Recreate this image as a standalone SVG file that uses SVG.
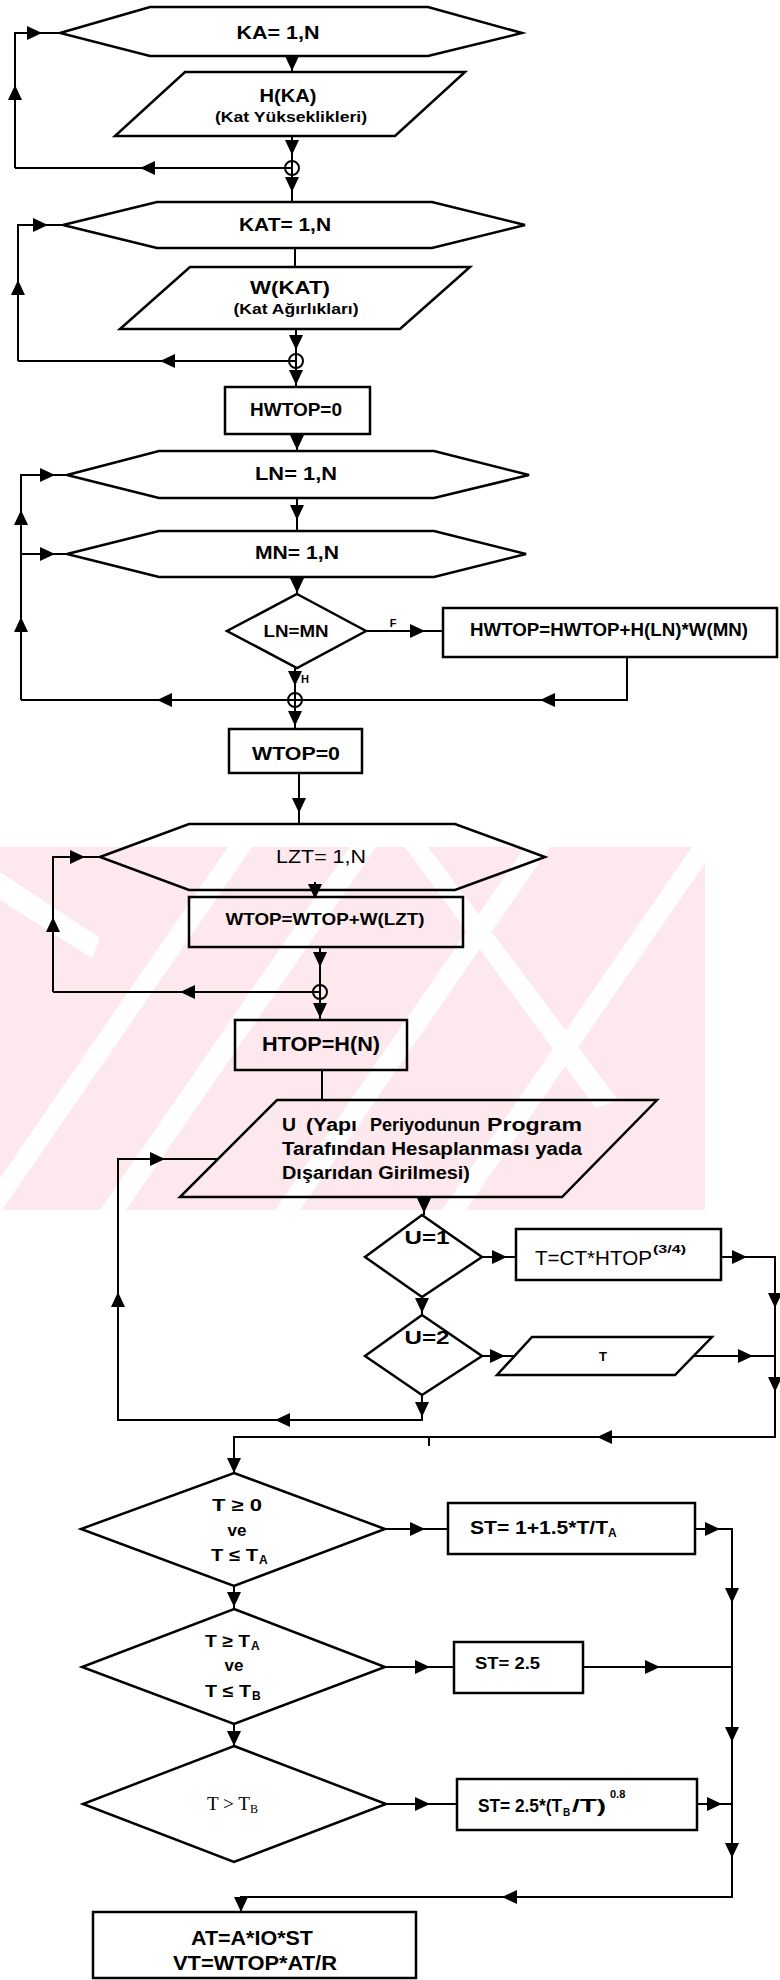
<svg xmlns="http://www.w3.org/2000/svg" xmlns:xlink="http://www.w3.org/1999/xlink" width="780" height="1980" viewBox="0 0 780 1980" font-size="18">
  <style>
    .shape { fill: none; stroke: #000; stroke-width: 2.5; stroke-linejoin: miter; }
    .c { fill: none; stroke: #000; stroke-width: 2; }
    .t { font-family: "Liberation Sans", Arial, sans-serif; font-weight: bold; fill: #000; text-anchor: middle; dominant-baseline: central; }
    .l { text-anchor: start; }
    .thin { font-weight: normal; }
    .serif { font-family: "Liberation Serif", "Times New Roman", serif; font-weight: normal; }
    .wm { fill: #fde9ed; }
    .wmw { fill: #fff; }
  </style>
  <defs>
    <!-- arrowhead pointing along +x with the tip at the origin -->
    <path id="ah" d="M0,0 L-15,-7 L-15,7 Z" fill="#000"/>
    <clipPath id="wmclip"><rect x="0" y="847" width="705" height="363"/></clipPath>
  </defs>
  <rect width="780" height="1980" fill="#fff"/>

  <!-- faint stamp in the background -->
  <g id="stamp" clip-path="url(#wmclip)">
    <rect class="wm" x="0" y="847" width="705" height="363"/>
    <polygon class="wmw" points="228,847 252,847 2,1210 -22,1210"/>
    <polygon class="wmw" points="350,847 376,847 126,1210 100,1210"/>
    <polygon class="wmw" points="525,847 550,847 300,1210 275,1210"/>
    <polygon class="wmw" points="692,847 716,847 466,1210 442,1210"/>
    <polygon class="wmw" points="0,872 0,900 92,958 100,938"/>
    <polygon class="wmw" points="405,847 428,847 618,1100 596,1108"/>
  </g>

  <!-- connectors -->
  <g id="connectors">
    <!-- KA loop -->
    <path class="c" d="M15,168 V33 H60"/>
    <path class="c" d="M292,168 H15"/>
    <path class="c" d="M292,56 V72 M292,136 V202"/>
    <!-- KAT loop -->
    <path class="c" d="M18,361 V225 H63"/>
    <path class="c" d="M296,361 H18"/>
    <path class="c" d="M295,248 V267 M296,329 V387"/>
    <!-- HWTOP to LN -->
    <path class="c" d="M297,434 V451"/>
    <!-- LN / MN loop -->
    <path class="c" d="M21,700 V475 H67 M21,554 H67"/>
    <path class="c" d="M297,498 V531 M297,577 V594"/>
    <path class="c" d="M366,631 H443"/>
    <path class="c" d="M627,657 V700 H21"/>
    <path class="c" d="M295,668 V729"/>
    <!-- WTOP to LZT -->
    <path class="c" d="M299,773 V824"/>
    <!-- LZT loop -->
    <path class="c" d="M53,992 V857 H100"/>
    <path class="c" d="M320,992 H53"/>
    <path class="c" d="M315,882 V897 M320,947 V1020"/>
    <!-- HTOP to U -->
    <path class="c" d="M322,1070 V1100"/>
    <!-- U section -->
    <path class="c" d="M218,1159 H118 V1420 H422 V1395"/>
    <path class="c" d="M424,1197 V1215 M422,1297 V1315"/>
    <path class="c" d="M482,1257 H516 M721,1257 H775 V1437 H234 V1473"/>
    <path class="c" d="M482,1356 H515 M693,1356 H775"/>
    <path class="c" d="M429,1437 V1446"/>
    <!-- seismic coefficient branches -->
    <path class="c" d="M234,1586 V1609 M234,1724 V1746"/>
    <path class="c" d="M385,1529 H448 M695,1529 H732 V1897 H241 V1912"/>
    <path class="c" d="M385,1667 H454 M583,1667 H732"/>
    <path class="c" d="M386,1804 H457 M697,1804 H732"/>

    <!-- junction circles -->
    <circle class="c" cx="292" cy="168" r="7"/>
    <circle class="c" cx="296" cy="361" r="7" fill="#fff"/>
    <circle class="c" cx="295" cy="700" r="7"/>
    <circle class="c" cx="320" cy="992" r="7"/>

    <!-- arrowheads -->
    <use xlink:href="#ah" transform="translate(42,33)"/>
    <use xlink:href="#ah" transform="translate(15,85) rotate(-90)"/>
    <use xlink:href="#ah" transform="translate(140,168) rotate(180)"/>
    <use xlink:href="#ah" transform="translate(292,71) rotate(90)"/>
    <use xlink:href="#ah" transform="translate(292,155) rotate(90)"/>
    <use xlink:href="#ah" transform="translate(292,192) rotate(90)"/>

    <use xlink:href="#ah" transform="translate(48,225)"/>
    <use xlink:href="#ah" transform="translate(18,280) rotate(-90)"/>
    <use xlink:href="#ah" transform="translate(160,361) rotate(180)"/>
    <use xlink:href="#ah" transform="translate(296,350) rotate(90)"/>
    <use xlink:href="#ah" transform="translate(296,385) rotate(90)"/>

    <use xlink:href="#ah" transform="translate(297,450) rotate(90)"/>
    <use xlink:href="#ah" transform="translate(55,475)"/>
    <use xlink:href="#ah" transform="translate(55,554)"/>
    <use xlink:href="#ah" transform="translate(21,510) rotate(-90)"/>
    <use xlink:href="#ah" transform="translate(21,617) rotate(-90)"/>
    <use xlink:href="#ah" transform="translate(297,520) rotate(90)"/>
    <use xlink:href="#ah" transform="translate(297,593) rotate(90)"/>
    <use xlink:href="#ah" transform="translate(425,631)"/>
    <use xlink:href="#ah" transform="translate(540,700) rotate(180)"/>
    <use xlink:href="#ah" transform="translate(295,686) rotate(90)"/>
    <use xlink:href="#ah" transform="translate(157,700) rotate(180)"/>
    <use xlink:href="#ah" transform="translate(295,726) rotate(90)"/>

    <use xlink:href="#ah" transform="translate(299,813) rotate(90)"/>
    <use xlink:href="#ah" transform="translate(85,857)"/>
    <use xlink:href="#ah" transform="translate(53,917) rotate(-90)"/>
    <use xlink:href="#ah" transform="translate(315,899) rotate(90)"/>
    <use xlink:href="#ah" transform="translate(320,967) rotate(90)"/>
    <use xlink:href="#ah" transform="translate(180,992) rotate(180)"/>
    <use xlink:href="#ah" transform="translate(320,1018) rotate(90)"/>

    <use xlink:href="#ah" transform="translate(165,1159)"/>
    <use xlink:href="#ah" transform="translate(118,1292) rotate(-90)"/>
    <use xlink:href="#ah" transform="translate(424,1213) rotate(90)"/>
    <use xlink:href="#ah" transform="translate(507,1257)"/>
    <use xlink:href="#ah" transform="translate(747,1257)"/>
    <use xlink:href="#ah" transform="translate(775,1308) rotate(90)"/>
    <use xlink:href="#ah" transform="translate(775,1392) rotate(90)"/>
    <use xlink:href="#ah" transform="translate(422,1313) rotate(90)"/>
    <use xlink:href="#ah" transform="translate(505,1356)"/>
    <use xlink:href="#ah" transform="translate(753,1356)"/>
    <use xlink:href="#ah" transform="translate(422,1417) rotate(90)"/>
    <use xlink:href="#ah" transform="translate(275,1420) rotate(180)"/>
    <use xlink:href="#ah" transform="translate(597,1437) rotate(180)"/>

    <use xlink:href="#ah" transform="translate(234,1473) rotate(90)"/>
    <use xlink:href="#ah" transform="translate(425,1529)"/>
    <use xlink:href="#ah" transform="translate(720,1529)"/>
    <use xlink:href="#ah" transform="translate(732,1603) rotate(90)"/>
    <use xlink:href="#ah" transform="translate(732,1742) rotate(90)"/>
    <use xlink:href="#ah" transform="translate(732,1858) rotate(90)"/>
    <use xlink:href="#ah" transform="translate(234,1607) rotate(90)"/>
    <use xlink:href="#ah" transform="translate(430,1667)"/>
    <use xlink:href="#ah" transform="translate(660,1667)"/>
    <use xlink:href="#ah" transform="translate(234,1746) rotate(90)"/>
    <use xlink:href="#ah" transform="translate(430,1804)"/>
    <use xlink:href="#ah" transform="translate(722,1804)"/>
    <use xlink:href="#ah" transform="translate(502,1897) rotate(180)"/>
    <use xlink:href="#ah" transform="translate(241,1912) rotate(90)"/>

    <!-- branch labels -->
    <text class="t" x="393" y="623" font-size="11">F</text>
    <text class="t" x="305" y="679" font-size="11">H</text>
  </g>

  <!-- nodes -->
  <g id="loop-ka">
    <polygon class="shape" points="60,33 150,7 428,7 522,33 428,56 150,56"/>
    <text class="t" x="278" y="33" textLength="83" lengthAdjust="spacingAndGlyphs">KA= 1,N</text>
  </g>
  <g id="input-h">
    <polygon class="shape" points="185,72 465,72 395,136 115,136"/>
    <text class="t" x="288" y="95" font-size="19" textLength="57" lengthAdjust="spacingAndGlyphs">H(KA)</text>
    <text class="t" x="291" y="117" font-size="14" textLength="152" lengthAdjust="spacingAndGlyphs">(Kat Yükseklikleri)</text>
  </g>
  <g id="loop-kat">
    <polygon class="shape" points="63,225 157,202 432,202 525,225 432,248 157,248"/>
    <text class="t" x="285" y="225" textLength="92" lengthAdjust="spacingAndGlyphs">KAT= 1,N</text>
  </g>
  <g id="input-w">
    <polygon class="shape" points="190,267 470,267 400,329 120,329"/>
    <text class="t" x="290" y="287" font-size="19" textLength="80" lengthAdjust="spacingAndGlyphs">W(KAT)</text>
    <text class="t" x="296" y="309" font-size="14" textLength="125" lengthAdjust="spacingAndGlyphs">(Kat Ağırlıkları)</text>
  </g>
  <g id="hwtop-init">
    <rect class="shape" x="225" y="387" width="145" height="47"/>
    <text class="t" x="296" y="410" textLength="92" lengthAdjust="spacingAndGlyphs">HWTOP=0</text>
  </g>
  <g id="loop-ln">
    <polygon class="shape" points="67,475 159,451 434,451 529,475 434,498 159,498"/>
    <text class="t" x="296" y="474" textLength="82" lengthAdjust="spacingAndGlyphs">LN= 1,N</text>
  </g>
  <g id="loop-mn">
    <polygon class="shape" points="67,554 159,531 434,531 526,554 434,577 159,577"/>
    <text class="t" x="297" y="553" textLength="84" lengthAdjust="spacingAndGlyphs">MN= 1,N</text>
  </g>
  <g id="test-ln-mn">
    <polygon class="shape" points="297,594 366,631 297,668 227,631"/>
    <text class="t" x="296" y="631" font-size="17" textLength="65" lengthAdjust="spacingAndGlyphs">LN=MN</text>
  </g>
  <g id="hwtop-sum">
    <rect class="shape" x="443" y="608" width="334" height="49"/>
    <text class="t" x="609" y="629" font-size="19" textLength="278" lengthAdjust="spacingAndGlyphs">HWTOP=HWTOP+H(LN)*W(MN)</text>
  </g>
  <g id="wtop-init">
    <rect class="shape" x="229" y="729" width="133" height="44"/>
    <text class="t" x="296" y="753" font-size="19" textLength="88" lengthAdjust="spacingAndGlyphs">WTOP=0</text>
  </g>
  <g id="loop-lzt">
    <polygon class="shape" points="100,857 189,824 455,824 545,857 455,890 189,890"/>
    <text class="t thin" x="321" y="857" textLength="90" lengthAdjust="spacingAndGlyphs">LZT= 1,N</text>
  </g>
  <g id="wtop-sum">
    <rect class="shape" x="189" y="897" width="274" height="50"/>
    <text class="t" x="325" y="919" font-size="17" textLength="199" lengthAdjust="spacingAndGlyphs">WTOP=WTOP+W(LZT)</text>
  </g>
  <g id="htop">
    <rect class="shape" x="235" y="1020" width="172" height="50"/>
    <text class="t" x="321" y="1043" font-size="21" textLength="118" lengthAdjust="spacingAndGlyphs">HTOP=H(N)</text>
  </g>
  <g id="input-u">
    <polygon class="shape" points="277,1100 657,1100 562,1197 180,1197"/>
    <text class="t l" x="282" y="1125" font-size="18" textLength="14" lengthAdjust="spacingAndGlyphs">U</text>
    <text class="t l" x="306" y="1125" font-size="18" textLength="51" lengthAdjust="spacingAndGlyphs">(Yapı</text>
    <text class="t l" x="370" y="1125" font-size="18" textLength="110" lengthAdjust="spacingAndGlyphs">Periyodunun</text>
    <text class="t l" x="487" y="1125" font-size="18" textLength="95" lengthAdjust="spacingAndGlyphs">Program</text>
    <text class="t l" x="282" y="1149" font-size="18" textLength="300" lengthAdjust="spacingAndGlyphs">Tarafından Hesaplanması yada</text>
    <text class="t l" x="282" y="1173" font-size="18" textLength="188" lengthAdjust="spacingAndGlyphs">Dışarıdan Girilmesi)</text>
  </g>
  <g id="test-u1">
    <polygon class="shape" points="422,1215 482,1257 422,1297 365,1257"/>
    <text class="t" x="427" y="1238" textLength="45" lengthAdjust="spacingAndGlyphs">U=1</text>
  </g>
  <g id="period-formula">
    <rect class="shape" x="516" y="1229" width="205" height="51"/>
    <text class="t l thin" x="535" y="1258" font-size="20" textLength="117" lengthAdjust="spacingAndGlyphs">T=CT*HTOP</text>
    <text class="t l" x="653" y="1249" font-size="11" textLength="33" lengthAdjust="spacingAndGlyphs">(3/4)</text>
  </g>
  <g id="test-u2">
    <polygon class="shape" points="422,1315 482,1356 422,1395 365,1356"/>
    <text class="t" x="427" y="1338" textLength="45" lengthAdjust="spacingAndGlyphs">U=2</text>
  </g>
  <g id="input-t">
    <polygon class="shape" points="532,1337 712,1337 675,1375 497,1375"/>
    <text class="t" x="603" y="1356" font-size="13">T</text>
  </g>
  <g id="range-1">
    <polygon class="shape" points="234,1473 385,1529 234,1586 81,1529"/>
    <text class="t" x="237" y="1505" font-size="17" textLength="50" lengthAdjust="spacingAndGlyphs">T ≥ 0</text>
    <text class="t" x="237" y="1530" font-size="17">ve</text>
    <text class="t l" x="211" y="1555" font-size="17" textLength="47" lengthAdjust="spacingAndGlyphs">T ≤ T</text>
    <text class="t l" x="259" y="1560" font-size="12">A</text>
  </g>
  <g id="st-1">
    <rect class="shape" x="448" y="1503" width="247" height="51"/>
    <text class="t l" x="470" y="1528" font-size="18" textLength="138" lengthAdjust="spacingAndGlyphs">ST= 1+1.5*T/T</text>
    <text class="t l" x="608" y="1533" font-size="12">A</text>
  </g>
  <g id="range-2">
    <polygon class="shape" points="234,1609 385,1667 234,1724 82,1667"/>
    <text class="t l" x="205" y="1641" font-size="17" textLength="45" lengthAdjust="spacingAndGlyphs">T ≥ T</text>
    <text class="t l" x="251" y="1646" font-size="12">A</text>
    <text class="t" x="234" y="1665" font-size="17">ve</text>
    <text class="t l" x="205" y="1691" font-size="17" textLength="46" lengthAdjust="spacingAndGlyphs">T ≤ T</text>
    <text class="t l" x="252" y="1696" font-size="12">B</text>
  </g>
  <g id="st-2">
    <rect class="shape" x="454" y="1642" width="129" height="51"/>
    <text class="t l" x="475" y="1663" font-size="17" textLength="65" lengthAdjust="spacingAndGlyphs">ST= 2.5</text>
  </g>
  <g id="range-3">
    <polygon class="shape" points="234,1746 386,1804 234,1862 83,1804"/>
    <text class="t l serif" x="207" y="1804" font-size="18" textLength="43" lengthAdjust="spacingAndGlyphs">T &gt; T</text>
    <text class="t l serif" x="250" y="1809" font-size="12">B</text>
  </g>
  <g id="st-3">
    <rect class="shape" x="457" y="1779" width="240" height="51"/>
    <text class="t l" x="478" y="1806" font-size="18" textLength="84" lengthAdjust="spacingAndGlyphs">ST= 2.5*(T</text>
    <text class="t l" x="563" y="1812" font-size="10">B</text>
    <text class="t l" x="572" y="1806" font-size="18" textLength="34" lengthAdjust="spacingAndGlyphs">/T)</text>
    <text class="t l" x="610" y="1794" font-size="11">0.8</text>
  </g>
  <g id="result">
    <rect class="shape" x="93" y="1912" width="323" height="66"/>
    <text class="t" x="252" y="1938" font-size="20" textLength="122" lengthAdjust="spacingAndGlyphs">AT=A*IO*ST</text>
    <text class="t" x="255" y="1963" font-size="20" textLength="164" lengthAdjust="spacingAndGlyphs">VT=WTOP*AT/R</text>
  </g>
</svg>
